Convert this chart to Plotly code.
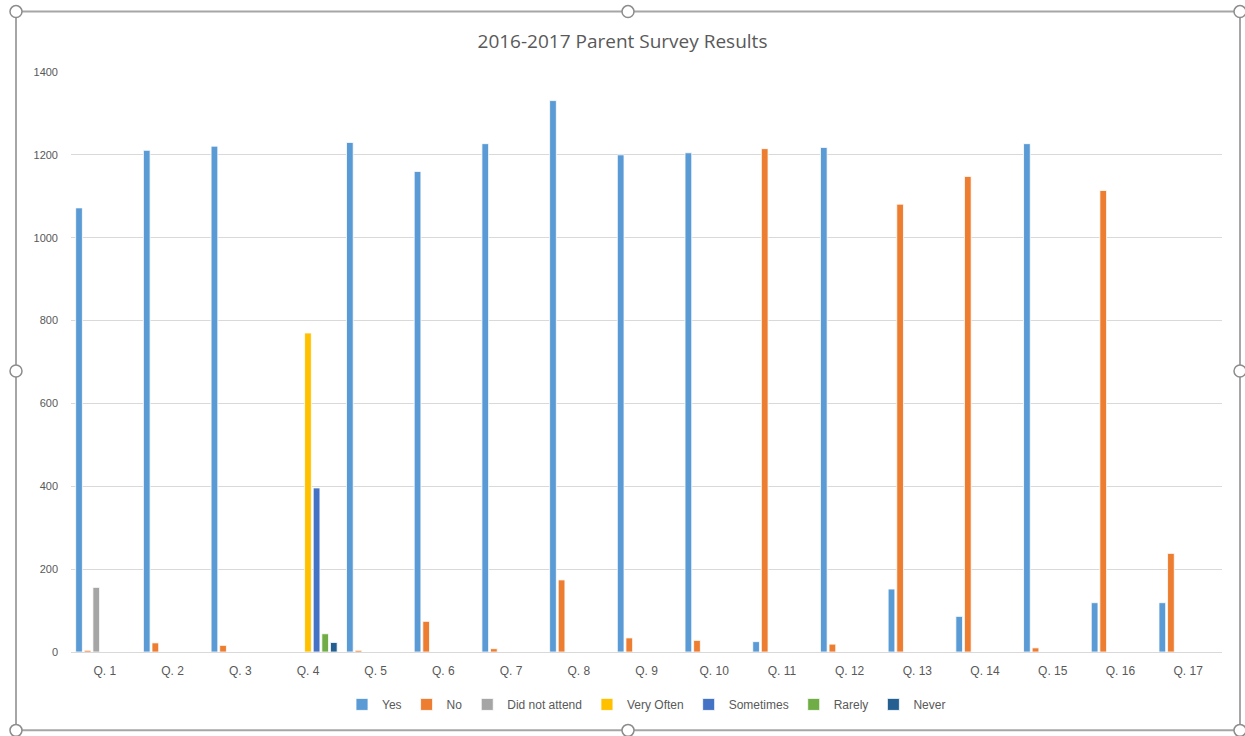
import plotly.graph_objects as go

categories = ["Q. 1", "Q. 2", "Q. 3", "Q. 4", "Q. 5", "Q. 6", "Q. 7", "Q. 8", "Q. 9",
              "Q. 10", "Q. 11", "Q. 12", "Q. 13", "Q. 14", "Q. 15", "Q. 16", "Q. 17"]

yes = [1072, 1211, 1221, None, 1230, 1160, 1227, 1331, 1200, 1205, 25, 1218, 152, 86, 1227, 119, 119]
no = [4, 22, 16, None, 4, 74, 8, 174, 34, 28, 1215, 19, 1081, 1148, 10, 1114, 238]
did_not_attend = [156] + [None] * 16
very_often = [None, None, None, 770] + [None] * 13
sometimes = [None, None, None, 396] + [None] * 13
rarely = [None, None, None, 44] + [None] * 13
never = [None, None, None, 23] + [None] * 13

series = [
    ("Yes", yes, "#5B9BD5"),
    ("No", no, "#ED7D31"),
    ("Did not attend", did_not_attend, "#A5A5A5"),
    ("Very Often", very_often, "#FFC000"),
    ("Sometimes", sometimes, "#4472C4"),
    ("Rarely", rarely, "#70AD47"),
    ("Never", never, "#255E91"),
]

fig = go.Figure()
for name, vals, color in series:
    fig.add_trace(go.Bar(name=name, x=categories, y=vals,
                         marker=dict(color=color, line=dict(color="white", width=0.8))))

W, H = 1245, 736
L, R, T, B = 71, 1222, 71.5, 652.5


def px_x(p):
    return (p - L) / (R - L)


def px_y(p):
    return (B - p) / (B - T)


shapes = [dict(type="rect", xref="paper", yref="paper",
               x0=px_x(16), x1=px_x(1240), y0=px_y(731), y1=px_y(11),
               line=dict(color="#A6A6A6", width=2), layer="below")]
for hx, hy in [(16, 11), (628, 11), (1240, 11), (16, 371), (1240, 371),
               (16, 731), (628, 731), (1240, 731)]:
    r = 6
    shapes.append(dict(type="circle", xref="paper", yref="paper",
                       x0=px_x(hx - r), x1=px_x(hx + r), y0=px_y(hy + r), y1=px_y(hy - r),
                       line=dict(color="#8C8C8C", width=1.5), fillcolor="white", layer="above"))

fig.update_layout(
    width=W, height=H,
    margin=dict(l=L, r=W - R, t=T, b=H - B),
    paper_bgcolor="white", plot_bgcolor="white",
    barmode="group", bargap=0.11, bargroupgap=0.22,
    font=dict(family="Liberation Sans, Arial, sans-serif", color="#595959", size=12),
    title=dict(text="2016-2017 Parent Survey Results", x=0.5, xanchor="center",
               y=1 - 41 / H, yanchor="middle",
               font=dict(size=19, color="#595959", family="Open Sans, Liberation Sans, sans-serif")),
    legend=dict(orientation="h", x=0.5, xanchor="center", y=px_y(705), yanchor="middle",
                font=dict(size=12, color="#595959"), itemwidth=30, traceorder="normal",
                itemclick=False),
    shapes=shapes,
    showlegend=True,
)
fig.update_xaxes(showgrid=False, showline=True, linecolor="#D9D9D9", linewidth=1,
                 ticks="", tickfont=dict(size=12, color="#595959"), ticklabelstandoff=8)
fig.update_yaxes(range=[0, 1400], dtick=200, showgrid=True, gridcolor="#D9D9D9",
                 gridwidth=1, zeroline=False, showline=False, ticks="",
                 tickfont=dict(size=11, color="#595959"), ticklabelstandoff=12)

fig.write_html("out.html", config={"displayModeBar": False},
               post_script="document.body.style.margin='0px';document.body.style.overflow='hidden';")
